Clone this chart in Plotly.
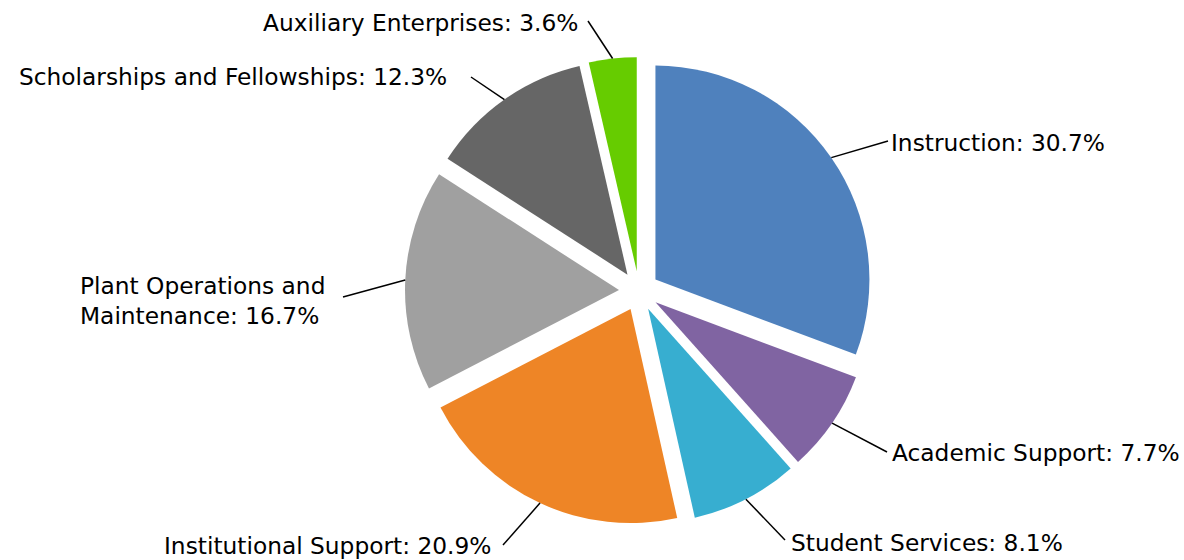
import math
import plotly.graph_objects as go

# Expense shares by function (percent)
categories = [
    "Instruction",
    "Academic Support",
    "Student Services",
    "Institutional Support",
    "Plant Operations and Maintenance",
    "Scholarships and Fellowships",
    "Auxiliary Enterprises",
]
shares = [30.7, 7.7, 8.1, 20.9, 16.7, 12.3, 3.6]
label_texts = [
    "Instruction: 30.7%",
    "Academic Support: 7.7%",
    "Student Services: 8.1%",
    "Institutional Support: 20.9%",
    "Plant Operations and<br>Maintenance: 16.7%",
    "Scholarships and Fellowships: 12.3%",
    "Auxiliary Enterprises: 3.6%",
]
colors = ["#4F81BD", "#8064A2", "#37AED0", "#EE8526", "#A0A0A0", "#666666", "#66CC00"]

# Layout (pixels)
W, H = 1184, 560
CX, CY, R = 639, 291, 214
PULL = 20 / R

# Leader line outer ends and label anchors (pixels)
leader_ends = [(888, 141), (887, 452), (785, 540), (503, 545), (343, 297), (471, 77), (588, 21)]
label_pos = [(889, 142, "left"), (890, 452, "left"), (789, 542, "left"),
             (493, 545, "right"), (327, 300, "right"), (449, 77, "right"), (580, 23, "right")]


def px(x):
    return x / W


def py(y):
    return 1 - y / H


half = R * (1 + PULL)
fig = go.Figure(go.Pie(
    labels=categories,
    values=shares,
    sort=False,
    direction="clockwise",
    rotation=0,
    pull=[PULL] * len(shares),
    marker=dict(colors=colors, line=dict(width=0)),
    textinfo="none",
    hoverinfo="label+percent",
    domain=dict(x=[px(CX - half), px(CX + half)], y=[py(CY + half), py(CY - half)]),
))

shapes = []
annotations = []
total = sum(shares)
cum = 0.0
for i, v in enumerate(shares):
    mid = (cum + v / 2) / total * 2 * math.pi
    cum += v
    sx = CX + half * math.sin(mid)
    sy = CY - half * math.cos(mid)
    ex, ey = leader_ends[i]
    shapes.append(dict(type="line", xref="paper", yref="paper",
                       x0=px(sx), y0=py(sy), x1=px(ex), y1=py(ey),
                       line=dict(color="black", width=1.5)))
    lx, ly, anchor = label_pos[i]
    annotations.append(dict(text=label_texts[i], xref="paper", yref="paper",
                            x=px(lx), y=py(ly), xanchor=anchor, yanchor="middle",
                            align="left", showarrow=False,
                            font=dict(family="DejaVu Sans", size=23.3, color="black")))

fig.update_layout(
    width=W, height=H,
    margin=dict(l=0, r=0, t=0, b=0),
    paper_bgcolor="white",
    showlegend=False,
    shapes=shapes,
    annotations=annotations,
)

fig.write_html("out.html")
